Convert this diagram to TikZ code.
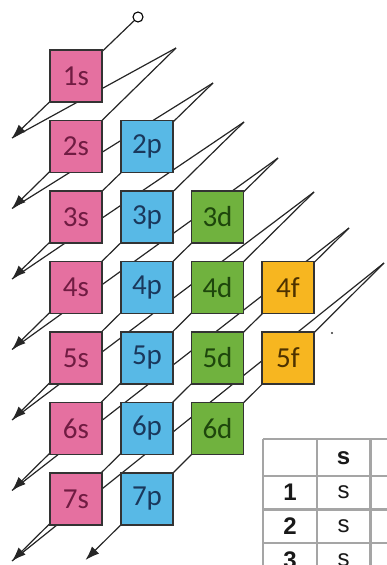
\documentclass[tikz,border=0pt]{standalone}
\usepackage{fontspec}
\setmainfont{Carlito}
\newfontfamily\tabfont{Liberation Sans}
\usetikzlibrary{arrows.meta}
\definecolor{orbpink}{RGB}{229,112,160}
\definecolor{orbblue}{RGB}{88,185,230}
\definecolor{orbgreen}{RGB}{112,178,62}
\definecolor{orbgold}{RGB}{247,182,32}
\definecolor{txtpink}{RGB}{112,28,66}
\definecolor{txtblue}{RGB}{26,56,92}
\definecolor{txtgreen}{RGB}{30,70,12}
\definecolor{txtgold}{RGB}{78,50,0}
\definecolor{tabgray}{RGB}{165,165,165}

\tikzset{
  orb/.style={draw=black!80,line width=1.1pt,minimum size=52pt,inner sep=0pt,
    font=\fontsize{29}{29}\selectfont},
  sorb/.style={orb,fill=orbpink,text=txtpink},
  porb/.style={orb,fill=orbblue,text=txtblue},
  dorb/.style={orb,fill=orbgreen,text=txtgreen},
  forb/.style={orb,fill=orbgold,text=txtgold},
  zig/.style={line width=1.2pt,black!85},
  down/.style={zig,-{Latex[length=14pt,width=10pt]}},
  tabline/.style={line width=2.4pt,tabgray},
  tabcell/.style={font=\tabfont\fontsize{24}{24}\selectfont,text=black!90},
  tabhead/.style={tabcell,font=\tabfont\bfseries\fontsize{24}{24}\selectfont}
}

\begin{document}
\begin{tikzpicture}[x=1pt,y=-1pt]
\useasboundingbox (0,0) rectangle (387,565);
\clip (0,0) rectangle (387,565);

% upper tips and arrow ends
\coordinate (t1) at (176,48);
\coordinate (t2) at (213,83);
\coordinate (t3) at (244,122);
\coordinate (t4) at (278,158);
\coordinate (t5) at (314,192);
\coordinate (t6) at (349,228);
\coordinate (t7) at (384,263);
\coordinate (a0) at (12,138);
\coordinate (a1) at (12,208.5);
\coordinate (a2) at (12,279);
\coordinate (a3) at (12,349.5);
\coordinate (a4) at (12,420);
\coordinate (a5) at (12,490.5);
\coordinate (a6) at (12,561);
\coordinate (a7) at (85.5,560);
\node[circle,draw,line width=1.1pt,fill=white,minimum size=10pt,inner sep=0pt] (start) at (138,17) {};

% zigzag
\draw[down] (start) -- (a0);
\draw[zig] (a0) -- (t1);
\draw[down] (t1) -- (a1);
\draw[zig] (a1) -- (t2);
\draw[down] (t2) -- (a2);
\draw[zig] (a2) -- (t3);
\draw[down] (t3) -- (a3);
\draw[zig] (a3) -- (t4);
\draw[down] (t4) -- (a4);
\draw[zig] (a4) -- (t5);
\draw[down] (t5) -- (a5);
\draw[zig] (a5) -- (t6);
\draw[down] (t6) -- (a6);
\draw[zig] (a6) -- (t7);
\draw[down] (t7) -- (a7);

% orbitals
\node[sorb] (s1) at (76,76) {1s};
\node[sorb] (s2) at (76,146.5) {2s};
\node[sorb] (s3) at (76,217) {3s};
\node[sorb] (s4) at (76,287.5) {4s};
\node[sorb] (s5) at (76,358) {5s};
\node[sorb] (s6) at (76,428.5) {6s};
\node[sorb] (s7) at (76,499) {7s};
\node[porb] (p2) at (147,146.5) {2p};
\node[porb] (p3) at (147,217) {3p};
\node[porb] (p4) at (147,287.5) {4p};
\node[porb] (p5) at (147,358) {5p};
\node[porb] (p6) at (147,428.5) {6p};
\node[porb] (p7) at (147,499) {7p};
\node[dorb] (d3) at (217.5,217) {3d};
\node[dorb] (d4) at (217.5,287.5) {4d};
\node[dorb] (d5) at (217.5,358) {5d};
\node[dorb] (d6) at (217.5,428.5) {6d};
\node[forb] (f4) at (288,287.5) {4f};
\node[forb] (f5) at (288,358) {5f};

\fill[black!80] (332,333) circle (1.2);

% table corner
\fill[white] (263,439) rectangle (387,565);
\draw[tabline] (263,439) -- (387,439);
\draw[tabline] (263,476) -- (387,476);
\draw[tabline] (263,509.5) -- (387,509.5);
\draw[tabline] (263,543) -- (387,543);
\draw[tabline] (263,439) -- (263,565);
\draw[tabline] (317,439) -- (317,565);
\draw[tabline] (370.5,439) -- (370.5,565);
\node[tabhead] (hs) at (343.5,458) {s};
\node[tabhead] (r1) at (290,492.5) {1};
\node[tabcell] (c1) at (343.5,492.5) {s};
\node[tabhead] (r2) at (290,526) {2};
\node[tabcell] (c2) at (343.5,526) {s};
\node[tabhead] (r3) at (290,560) {3};
\node[tabcell] (c3) at (343.5,560) {s};
\end{tikzpicture}
\end{document}
